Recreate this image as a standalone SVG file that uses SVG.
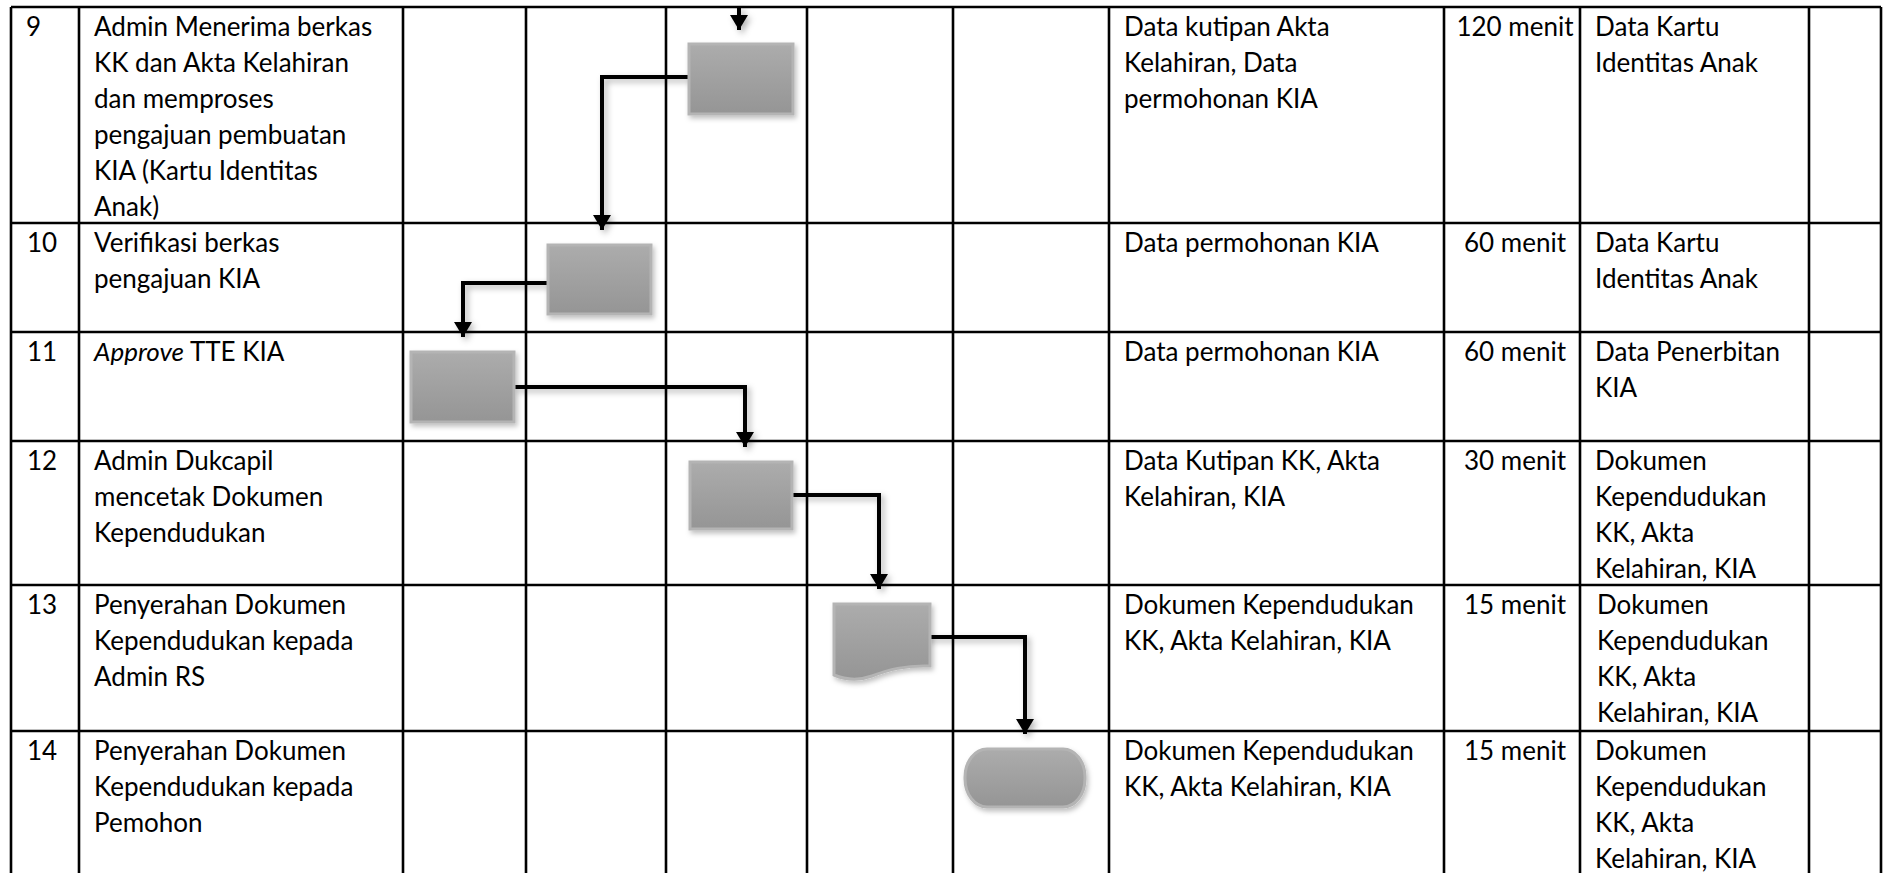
<svg xmlns="http://www.w3.org/2000/svg" width="1890" height="873" viewBox="0 0 1890 873">
<style>
.grid{stroke:#000;stroke-width:2.6;fill:none}
.t{font-family:Lato,"Open Sans","Liberation Sans",sans-serif;font-size:26px;fill:#000}
.tm{text-anchor:middle}
.shape{fill:url(#g);stroke:#b4b4b4;stroke-width:3;filter:url(#sh)}
.con{fill:none;stroke:#000;stroke-width:4;filter:url(#sh2)}
</style>
<defs>
<linearGradient id="g" x1="0" y1="0" x2="0" y2="1">
<stop offset="0" stop-color="#acacac"/>
<stop offset="1" stop-color="#959595"/>
</linearGradient>
<filter id="sh" x="-20%" y="-20%" width="150%" height="160%">
<feDropShadow dx="2" dy="3" stdDeviation="2.5" flood-color="#000" flood-opacity="0.25"/>
</filter>
<filter id="sh2" filterUnits="userSpaceOnUse" x="0" y="0" width="1890" height="873">
<feDropShadow dx="3" dy="3" stdDeviation="3" flood-color="#000" flood-opacity="0.3"/>
</filter>
<marker id="ah" markerUnits="userSpaceOnUse" markerWidth="18" markerHeight="18" refX="15" refY="9" orient="auto">
<path d="M0,0 L15,9 L0,18 Z" fill="#000"/>
</marker>
</defs>

<g id="table" class="grid">
<line x1="11" y1="7" x2="1881" y2="7"/>
<line x1="11" y1="223" x2="1881" y2="223"/>
<line x1="11" y1="332" x2="1881" y2="332"/>
<line x1="11" y1="441" x2="1881" y2="441"/>
<line x1="11" y1="585" x2="1881" y2="585"/>
<line x1="11" y1="731" x2="1881" y2="731"/>
<line x1="11" y1="7" x2="11" y2="873"/>
<line x1="79" y1="7" x2="79" y2="873"/>
<line x1="403" y1="7" x2="403" y2="873"/>
<line x1="526" y1="7" x2="526" y2="873"/>
<line x1="666" y1="7" x2="666" y2="873"/>
<line x1="807" y1="7" x2="807" y2="873"/>
<line x1="953" y1="7" x2="953" y2="873"/>
<line x1="1109" y1="7" x2="1109" y2="873"/>
<line x1="1444" y1="7" x2="1444" y2="873"/>
<line x1="1580" y1="7" x2="1580" y2="873"/>
<line x1="1809" y1="7" x2="1809" y2="873"/>
<line x1="1881" y1="7" x2="1881" y2="873"/>
</g>

<g id="row9" class="t">
<text x="26" y="36">9</text>
<text x="94" y="36">Admin Menerima berkas</text>
<text x="94" y="72">KK dan Akta Kelahiran</text>
<text x="94" y="108">dan memproses</text>
<text x="94" y="144">pengajuan pembuatan</text>
<text x="94" y="180">KIA (Kartu Identitas</text>
<text x="94" y="216">Anak)</text>
<text x="1124" y="36">Data kutipan Akta</text>
<text x="1124" y="72">Kelahiran, Data</text>
<text x="1124" y="108">permohonan KIA</text>
<text x="1515" y="36" class="tm">120 menit</text>
<text x="1595" y="36">Data Kartu</text>
<text x="1595" y="72">Identitas Anak</text>
</g>
<g id="row10" class="t">
<text x="27" y="252">10</text>
<text x="94" y="252">Verifikasi berkas</text>
<text x="94" y="288">pengajuan KIA</text>
<text x="1124" y="252">Data permohonan KIA</text>
<text x="1515" y="252" class="tm">60 menit</text>
<text x="1595" y="252">Data Kartu</text>
<text x="1595" y="288">Identitas Anak</text>
</g>
<g id="row11" class="t">
<text x="27" y="361">11</text>
<text x="94" y="361"><tspan font-style="italic">Approve</tspan> TTE KIA</text>
<text x="1124" y="361">Data permohonan KIA</text>
<text x="1515" y="361" class="tm">60 menit</text>
<text x="1595" y="361">Data Penerbitan</text>
<text x="1595" y="397">KIA</text>
</g>
<g id="row12" class="t">
<text x="27" y="470">12</text>
<text x="94" y="470">Admin Dukcapil</text>
<text x="94" y="506">mencetak Dokumen</text>
<text x="94" y="542">Kependudukan</text>
<text x="1124" y="470">Data Kutipan KK, Akta</text>
<text x="1124" y="506">Kelahiran, KIA</text>
<text x="1515" y="470" class="tm">30 menit</text>
<text x="1595" y="470">Dokumen</text>
<text x="1595" y="506">Kependudukan</text>
<text x="1595" y="542">KK, Akta</text>
<text x="1595" y="578">Kelahiran, KIA</text>
</g>
<g id="row13" class="t">
<text x="27" y="614">13</text>
<text x="94" y="614">Penyerahan Dokumen</text>
<text x="94" y="650">Kependudukan kepada</text>
<text x="94" y="686">Admin RS</text>
<text x="1124" y="614">Dokumen Kependudukan</text>
<text x="1124" y="650">KK, Akta Kelahiran, KIA</text>
<text x="1515" y="614" class="tm">15 menit</text>
<text x="1597" y="614">Dokumen</text>
<text x="1597" y="650">Kependudukan</text>
<text x="1597" y="686">KK, Akta</text>
<text x="1597" y="722">Kelahiran, KIA</text>
</g>
<g id="row14" class="t">
<text x="27" y="760">14</text>
<text x="94" y="760">Penyerahan Dokumen</text>
<text x="94" y="796">Kependudukan kepada</text>
<text x="94" y="832">Pemohon</text>
<text x="1124" y="760">Dokumen Kependudukan</text>
<text x="1124" y="796">KK, Akta Kelahiran, KIA</text>
<text x="1515" y="760" class="tm">15 menit</text>
<text x="1595" y="760">Dokumen</text>
<text x="1595" y="796">Kependudukan</text>
<text x="1595" y="832">KK, Akta</text>
<text x="1595" y="868">Kelahiran, KIA</text>
</g>

<g id="connectors">
<path class="con" d="M739,6 V30" marker-end="url(#ah)"/>
<path class="con" d="M689,77 H602 V230" marker-end="url(#ah)"/>
<path class="con" d="M548,283 H463 V337" marker-end="url(#ah)"/>
<path class="con" d="M514,387 H745 V447" marker-end="url(#ah)"/>
<path class="con" d="M792,495 H879 V589" marker-end="url(#ah)"/>
<path class="con" d="M925,637 H1025 V734" marker-end="url(#ah)"/>
</g>

<g id="n9"><rect class="shape" x="689" y="44" width="104" height="70"/></g>
<g id="n10"><rect class="shape" x="548" y="245" width="103" height="69"/></g>
<g id="n11"><rect class="shape" x="411" y="352" width="103" height="70"/></g>
<g id="n12"><rect class="shape" x="690" y="462" width="102" height="67"/></g>
<g id="n13"><path class="shape" d="M834,604 H930 V666 C905,665 888,670 872,676 C858,681 846,680 834,675 Z"/></g>
<g id="n14"><rect class="shape" x="965" y="749" width="120" height="58" rx="22" ry="28"/></g>
</svg>
